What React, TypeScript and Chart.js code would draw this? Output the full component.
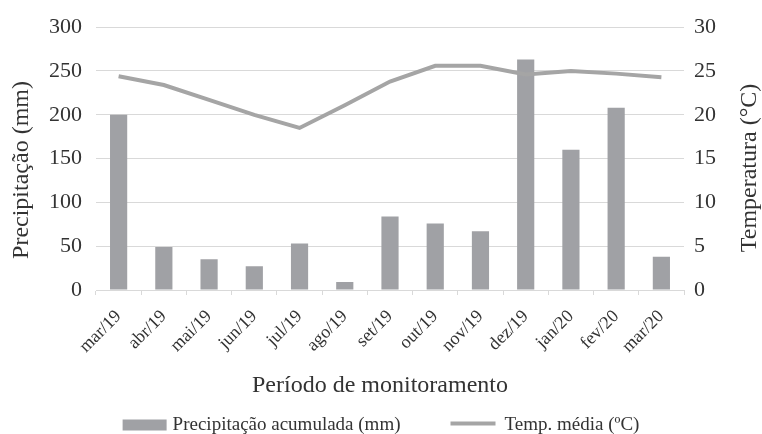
import { useEffect, useRef } from "react";
import { Chart, registerables } from "chart.js";

Chart.register(...registerables);

const categories = ["mar/19", "abr/19", "mai/19", "jun/19", "jul/19", "ago/19", "set/19", "out/19", "nov/19", "dez/19", "jan/20", "fev/20", "mar/20"];
const precipitation = [200, 49, 35, 27, 53, 9, 84, 76, 67, 263, 160, 208, 38];
const temperature = [24.4, 23.4, 21.7, 20.0, 18.5, 21.1, 23.8, 25.6, 25.6, 24.6, 25.0, 24.7, 24.3];

const precipLabel = "Precipitação acumulada (mm)";
const tempLabel = "Temp. média (ºC)";
const leftTitle = "Precipitação (mm)";
const rightTitle = "Temperatura (°C)";
const xTitle = "Período de monitoramento";

const FONT = "'Liberation Serif', 'Times New Roman', serif";
const BAR_COLOR = "#a0a1a5";
const LINE_COLOR = "#a5a5a5";
const GRID_COLOR = "#d9d9d9";
const TEXT_COLOR = "#333333";

const decorPlugin = {
  id: "decor",
  afterDraw(chart: any) {
    const ctx = chart.ctx;
    ctx.save();
    ctx.fillStyle = TEXT_COLOR;
    ctx.font = `24px ${FONT}`;
    ctx.textAlign = "center";
    ctx.textBaseline = "middle";
    // left title
    ctx.save();
    ctx.translate(22, 170);
    ctx.rotate(-Math.PI / 2);
    ctx.fillText(leftTitle, 0, 0);
    ctx.restore();
    // right title
    ctx.save();
    ctx.translate(750, 168);
    ctx.rotate(-Math.PI / 2);
    ctx.fillText(rightTitle, 0, 0);
    ctx.restore();
    // x title
    ctx.fillText(xTitle, 380, 386);

    // legend
    ctx.font = `19px ${FONT}`;
    ctx.textAlign = "left";
    const w1 = ctx.measureText(precipLabel).width;
    const w2 = ctx.measureText(tempLabel).width;
    const boxW = 44;
    const total = boxW + 6 + w1 + 50 + 45 + 9 + w2;
    let x = 381 - total / 2;
    const y = 425;
    ctx.fillStyle = BAR_COLOR;
    ctx.fillRect(x, y - 5.5, boxW, 11);
    x += boxW + 6;
    ctx.fillStyle = TEXT_COLOR;
    ctx.fillText(precipLabel, x, y);
    x += w1 + 50;
    ctx.strokeStyle = LINE_COLOR;
    ctx.lineWidth = 4;
    ctx.beginPath();
    ctx.moveTo(x, y - 1.5);
    ctx.lineTo(x + 45, y - 1.5);
    ctx.stroke();
    x += 45 + 9;
    ctx.fillText(tempLabel, x, y);
    ctx.restore();
  },
};

export default function App() {
  const ref = useRef<HTMLCanvasElement | null>(null);

  useEffect(() => {
    document.body.style.margin = "0";
    const canvas = ref.current;
    if (!canvas) return;
    const chart = new Chart(canvas, {
      data: {
        labels: categories,
        datasets: [
          {
            type: "line",
            label: tempLabel,
            data: temperature,
            yAxisID: "y1",
            borderColor: LINE_COLOR,
            backgroundColor: LINE_COLOR,
            borderWidth: 4,
            pointRadius: 0,
            tension: 0,
            order: 0,
          },
          {
            type: "bar",
            label: precipLabel,
            data: precipitation,
            yAxisID: "y",
            backgroundColor: BAR_COLOR,
            borderWidth: 0,
            barPercentage: 0.38,
            categoryPercentage: 1,
            order: 1,
          },
        ],
      },
      options: {
        animation: false,
        responsive: true,
        maintainAspectRatio: false,
        layout: { padding: { top: 23, left: 0, right: 0, bottom: 0 } },
        plugins: {
          legend: { display: false },
          tooltip: { enabled: false },
        },
        scales: {
          x: {
            offset: true,
            grid: {
              offset: true,
              drawOnChartArea: false,
              drawTicks: true,
              tickLength: 5,
              color: GRID_COLOR,
            },
            border: { display: true, color: GRID_COLOR },
            ticks: {
              maxRotation: 45,
              minRotation: 45,
              autoSkip: false,
              padding: 11,
              color: TEXT_COLOR,
              font: { family: FONT, size: 18 },
            },
            afterFit: (s: any) => {
              s.height = 144;
            },
          },
          y: {
            position: "left",
            min: 0,
            max: 300,
            ticks: {
              stepSize: 50,
              padding: 14,
              color: TEXT_COLOR,
              font: { family: FONT, size: 22 },
            },
            grid: { color: GRID_COLOR, drawTicks: false },
            border: { display: false },
            afterFit: (s: any) => {
              s.width = 96;
            },
          },
          y1: {
            position: "right",
            min: 0,
            max: 30,
            ticks: {
              stepSize: 5,
              padding: 10,
              color: TEXT_COLOR,
              font: { family: FONT, size: 22 },
            },
            grid: { drawOnChartArea: false, drawTicks: false },
            border: { display: false },
            afterFit: (s: any) => {
              s.width = 78;
            },
          },
        },
      },
      plugins: [decorPlugin],
    } as any);
    return () => chart.destroy();
  }, []);

  return (
    <div style={{ position: "fixed", left: 0, top: 0, width: 762, height: 434 }}>
      <canvas ref={ref} />
    </div>
  );
}
